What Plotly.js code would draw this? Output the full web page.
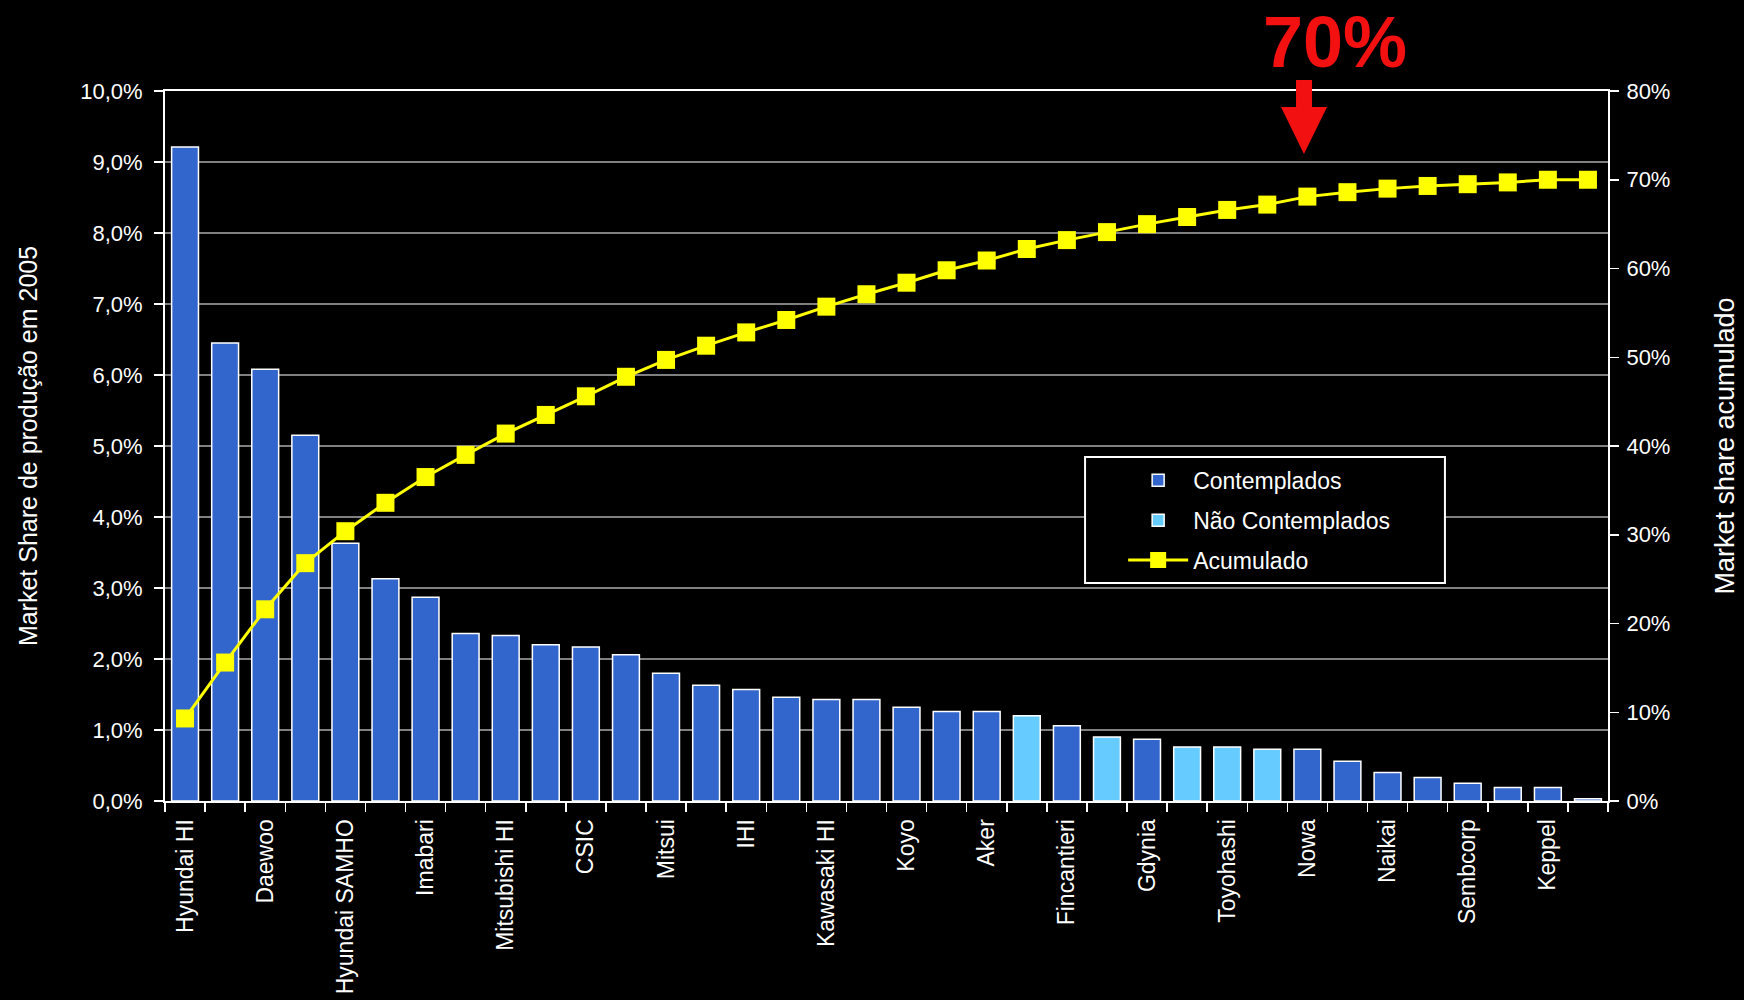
<!DOCTYPE html>
<html>
<head>
<meta charset="utf-8">
<script src="https://cdn.plot.ly/plotly-3.0.1.min.js"></script>
<style>
  html, body { margin: 0; padding: 0; background: #000; }
  #chart { width: 1744px; height: 1000px; }
</style>
</head>
<body>
<div id="chart"></div>
<script>
// Shipyards (every other label is shown on the axis, as in the original)
const categories = [
  'Hyundai HI', 'Samsung HI', 'Daewoo', 'Hyundai Mipo', 'Hyundai SAMHO', 'STX',
  'Imabari', 'Tsuneishi', 'Mitsubishi HI', 'Oshima', 'CSIC', 'Namura',
  'Mitsui', 'Sumitomo HI', 'IHI', 'Universal', 'Kawasaki HI', 'Hanjin HI',
  'Koyo', 'Sasebo', 'Aker', 'Odense', 'Fincantieri', 'Meyer Werft',
  'Gdynia', 'Szczecin', 'Toyohashi', 'Kanasashi', 'Nowa', 'Shin Kurushima',
  'Naikai', 'Hakodate', 'Sembcorp', 'Jurong', 'Keppel', 'Hitachi Zosen'
];

// Market share of production in 2005 (%)
const shares = [
  9.21, 6.45, 6.08, 5.15, 3.63, 3.13,
  2.87, 2.36, 2.33, 2.20, 2.17, 2.06,
  1.80, 1.63, 1.57, 1.46, 1.43, 1.43,
  1.32, 1.26, 1.26, 1.20, 1.06, 0.90,
  0.87, 0.76, 0.76, 0.73, 0.73, 0.56,
  0.40, 0.33, 0.25, 0.19, 0.19, 0.03
];

// C = Contemplados, N = Não Contemplados
const groups = [
  'C','C','C','C','C','C',
  'C','C','C','C','C','C',
  'C','C','C','C','C','C',
  'C','C','C','N','C','N',
  'C','N','N','N','C','C',
  'C','C','C','C','C','C'
];

// Accumulated market share (%)
const cumulative = [
  9.3, 15.6, 21.6, 26.8, 30.4, 33.6,
  36.5, 39.0, 41.4, 43.5, 45.6, 47.8,
  49.7, 51.3, 52.8, 54.2, 55.7, 57.1,
  58.4, 59.8, 60.9, 62.2, 63.2, 64.1,
  65.0, 65.8, 66.6, 67.2, 68.1, 68.6,
  69.0, 69.3, 69.5, 69.7, 70.0, 70.0
];

const seriesNames = { C: 'Contemplados', N: 'Não Contemplados', L: 'Acumulado' };
const calloutText = '70%';

const FONT = 'Liberation Sans, Arial, sans-serif';

function subset(g) {
  const x = [], y = [];
  categories.forEach((c, i) => { if (groups[i] === g) { x.push(c); y.push(shares[i]); } });
  return { x, y };
}

const cData = subset('C');
const nData = subset('N');

const traces = [
  {
    type: 'bar', name: seriesNames.C, x: cData.x, y: cData.y,
    marker: { color: '#3366CC', line: { color: '#FFFFFF', width: 1.5 } },
    legendgroup: 'a', hoverinfo: 'x+y'
  },
  {
    type: 'bar', name: seriesNames.N, x: nData.x, y: nData.y,
    marker: { color: '#66CCFF', line: { color: '#FFFFFF', width: 1.5 } },
    legendgroup: 'b', hoverinfo: 'x+y'
  },
  {
    type: 'scatter', mode: 'lines+markers', name: seriesNames.L,
    x: categories, y: cumulative, yaxis: 'y2',
    line: { color: '#FFFF00', width: 3 },
    marker: { symbol: 'square', size: 18, color: '#FFFF00' },
    legendgroup: 'c'
  }
];

const tickText = categories.map((c, i) => (i % 2 === 0 ? c : ''));

const layout = {
  width: 1744, height: 1000,
  paper_bgcolor: '#000000', plot_bgcolor: '#000000',
  margin: { l: 165, r: 136, t: 91, b: 199, pad: 0 },
  separators: ',.',
  barmode: 'overlay',
  bargap: 0.33,
  font: { family: FONT, color: '#FFFFFF', size: 22 },
  showlegend: true,
  legend: {
    x: 0.664, y: 0.482, xanchor: 'left', yanchor: 'top',
    bgcolor: 'rgba(0,0,0,0)', borderwidth: 0,
    font: { family: FONT, size: 23, color: '#FFFFFF' },
    itemwidth: 60, traceorder: 'grouped', tracegroupgap: 7
  },
  xaxis: {
    type: 'category', categoryorder: 'array', categoryarray: categories,
    range: [-0.5, categories.length - 0.5], autorange: false,
    tickmode: 'array', tickvals: categories, ticktext: tickText,
    tickson: 'boundaries', ticks: 'outside', ticklen: 9, tickwidth: 1.5, tickcolor: '#FFFFFF',
    tickangle: -90, tickfont: { family: FONT, size: 23, color: '#FFFFFF' },
    ticklabelstandoff: 7,
    showline: true, linecolor: '#FFFFFF', linewidth: 2, mirror: true,
    showgrid: false, zeroline: false, automargin: false, fixedrange: true
  },
  yaxis: {
    range: [0, 10], dtick: 1, tick0: 0,
    tickformat: '.1f', ticksuffix: '%',
    ticks: 'outside', ticklen: 9, tickwidth: 1.5, tickcolor: '#FFFFFF',
    tickfont: { family: FONT, size: 22, color: '#FFFFFF' },
    ticklabelstandoff: 7,
    showline: true, linecolor: '#FFFFFF', linewidth: 2,
    showgrid: true, gridcolor: '#808080', gridwidth: 1.5,
    zeroline: false, automargin: false,
    title: { text: 'Market Share de produção em 2005', font: { family: FONT, size: 25, color: '#FFFFFF' }, standoff: 35 }
  },
  yaxis2: {
    overlaying: 'y', side: 'right',
    range: [0, 80], dtick: 10, tick0: 0,
    tickformat: 'd', ticksuffix: '%',
    ticks: 'outside', ticklen: 9, tickwidth: 1.5, tickcolor: '#FFFFFF',
    tickfont: { family: FONT, size: 22, color: '#FFFFFF' },
    ticklabelstandoff: 3,
    showline: true, linecolor: '#FFFFFF', linewidth: 2,
    showgrid: false, zeroline: false, automargin: false,
    title: { text: 'Market share acumulado', font: { family: FONT, size: 27, color: '#FFFFFF' }, standoff: 46 }
  },
  shapes: [
    // legend frame
    {
      type: 'rect', xref: 'paper', yref: 'paper',
      x0: 0.6376, x1: 0.887, y0: 0.307, y1: 0.4845,
      fillcolor: '#000000', line: { color: '#FFFFFF', width: 2 }, layer: 'above'
    },
    // red arrow pointing at the 70% level
    {
      type: 'path', xref: 'paper', yref: 'paper',
      path: 'M 0.7838 1.0155 L 0.7949 1.0155 L 0.7949 0.9775 L 0.8053 0.9775 L 0.7893 0.9113 L 0.7734 0.9775 L 0.7838 0.9775 Z',
      fillcolor: '#F21010', line: { width: 0 }, layer: 'above'
    }
  ],
  annotations: [
    {
      text: '<b>' + calloutText + '</b>', xref: 'paper', yref: 'paper',
      x: 0.8108, y: 1.069, xanchor: 'center', yanchor: 'middle',
      showarrow: false, font: { family: FONT, size: 72, color: '#F21010' }
    }
  ]
};

Plotly.newPlot('chart', traces, layout, { displayModeBar: false, staticPlot: true });
</script>
</body>
</html>
